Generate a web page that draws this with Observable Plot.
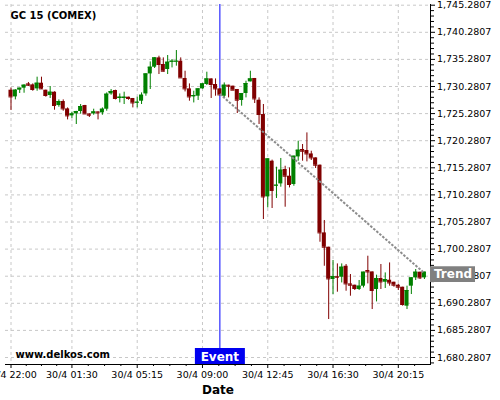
<!DOCTYPE html>
<html>
<head>
<meta charset="utf-8">
<script src="https://cdn.jsdelivr.net/npm/d3@7"></script>
<script src="https://cdn.jsdelivr.net/npm/@observablehq/plot@0.6"></script>
<style>
  body { margin: 0; background: #fff; }
  #chart svg { display: block; }
</style>
</head>
<body>
<div id="chart"></div>
<script>
// ---- data (15-minute candles starting 29/4 22:00) ----
const stepMinutes = 15;
const open = [1729.60,1728.36,1729.60,1729.97,1730.76,1730.58,1729.84,1730.89,1729.60,1728.62,
  1729.23,1726.77,1727.51,1726.15,1724.86,1725.22,1725.67,1726.77,1725.22,1725.22,
  1725.59,1725.41,1726.09,1728.91,1729.54,1728.07,1728.07,1728.31,1728.07,1727.25,
  1727.57,1728.91,1732.60,1733.84,1735.56,1734.34,1733.42,1734.76,1734.82,1734.95,
  1731.76,1729.84,1728.36,1728.49,1729.84,1730.65,1731.68,1730.65,1729.84,1728.49,
  1730.52,1730.34,1729.73,1727.70,1728.99,1731.13,1731.76,1727.75,1725.11,1709.91,
  1716.50,1711.94,1712.31,1714.97,1713.73,1712.20,1717.29,1718.66,1718.47,1717.84,
  1717.11,1715.76,1703.27,1700.63,1694.67,1695.22,1695.09,1697.12,1693.86,1693.62,
  1692.83,1693.44,1696.33,1696.07,1692.83,1694.86,1694.17,1694.54,1694.17,1693.62,
  1693.25,1689.75,1693.44,1694.97,1696.02,1694.97];
const close = [1728.36,1729.60,1729.97,1730.52,1730.52,1729.73,1730.89,1729.84,1728.62,1729.23,
  1726.77,1727.51,1726.15,1724.86,1725.22,1725.67,1726.59,1725.22,1724.98,1725.59,
  1725.41,1726.09,1728.86,1729.36,1728.07,1728.31,1728.31,1728.07,1727.25,1727.38,
  1728.67,1732.60,1733.84,1735.56,1734.34,1733.10,1734.76,1734.95,1734.95,1731.87,
  1729.84,1728.36,1728.62,1729.84,1730.76,1731.68,1730.65,1729.84,1728.73,1730.52,
  1730.34,1729.60,1727.75,1728.99,1730.83,1731.68,1727.99,1725.11,1709.91,1716.92,
  1711.09,1712.07,1714.84,1713.73,1712.20,1717.42,1718.53,1718.34,1717.84,1717.11,
  1715.76,1703.27,1700.63,1694.78,1695.22,1695.09,1696.94,1693.86,1693.62,1693.01,
  1693.44,1696.02,1696.07,1692.64,1694.86,1694.23,1694.67,1694.04,1693.62,1693.25,
  1690.06,1692.64,1694.97,1696.02,1694.97,1696.02];
const high = [1730.02,1729.70,1729.97,1730.60,1731.02,1730.76,1732.00,1732.00,1729.60,1730.28,
  1729.30,1727.81,1727.81,1726.33,1725.54,1725.70,1726.96,1726.80,1725.22,1726.09,
  1725.60,1726.33,1729.10,1729.73,1729.60,1728.91,1729.23,1728.31,1728.07,1728.31,
  1729.10,1732.60,1734.82,1735.60,1735.87,1735.56,1736.00,1735.26,1736.92,1735.56,
  1733.10,1730.76,1729.41,1729.84,1730.80,1732.92,1731.70,1731.68,1729.84,1730.94,
  1730.52,1730.34,1729.73,1728.99,1731.26,1733.10,1731.76,1728.18,1726.96,1716.92,
  1716.70,1715.39,1717.00,1715.57,1715.26,1717.42,1720.19,1719.58,1721.72,1718.34,
  1717.11,1715.80,1705.56,1700.63,1698.18,1697.55,1697.55,1697.44,1695.59,1693.62,
  1694.49,1696.02,1698.97,1696.07,1695.47,1697.44,1695.89,1697.73,1694.17,1693.80,
  1693.25,1693.44,1694.97,1696.52,1696.02,1696.02];
const low = [1725.85,1727.81,1728.99,1729.04,1730.28,1729.41,1729.41,1729.73,1728.31,1728.07,
  1725.91,1726.46,1725.72,1724.12,1724.38,1723.27,1725.17,1725.20,1724.56,1724.98,
  1724.12,1724.98,1725.72,1728.67,1727.81,1727.25,1726.96,1727.75,1726.33,1726.33,
  1726.96,1728.49,1729.73,1733.60,1732.49,1732.97,1732.49,1733.71,1734.03,1731.87,
  1729.28,1727.57,1727.25,1727.70,1729.80,1730.46,1728.07,1728.49,1728.60,1728.18,
  1728.18,1729.60,1725.30,1726.65,1728.18,1731.13,1727.14,1723.27,1705.74,1707.88,
  1707.77,1709.62,1711.70,1708.01,1711.57,1711.88,1716.50,1716.50,1716.37,1716.63,
  1715.15,1701.55,1697.12,1687.29,1691.90,1692.33,1694.04,1692.51,1691.59,1692.64,
  1692.64,1693.12,1693.86,1689.13,1690.54,1692.83,1693.01,1693.44,1693.25,1692.64,
  1689.75,1689.13,1691.90,1694.49,1694.67,1694.67];

// x ticks (minutes after 29/4 22:00) and their labels
const xTickMinutes = [0, 210, 435, 660, 885, 1110, 1335];
const xTickLabels = ["29/4 22:00", "30/4 01:30", "30/4 05:15", "30/4 09:00", "30/4 12:45", "30/4 16:30", "30/4 20:15"];
const yTicks = [1680.2807, 1685.2807, 1690.2807, 1695.2807, 1700.2807, 1705.2807, 1710.2807,
  1715.2807, 1720.2807, 1725.2807, 1730.2807, 1735.2807, 1740.2807, 1745.2807];

const eventMinute = 720;             // 30/4 10:00
const eventLabel = "Event";
const trendMinutes = [720, 1425];
const trendPrices = [1728.9, 1695.85];
const trendLabel = "Trend";
const title = "GC 15 (COMEX)";
const watermark = "www.delkos.com";
const xLabel = "Date";

const upColor = "#008000", downColor = "#800000";

// ---- derived tables ----
const candles = open.map((o, i) => ({
  t: i * stepMinutes, open: o, close: close[i], high: high[i], low: low[i],
  c: close[i] >= o ? upColor : downColor
}));
const trend = trendMinutes.map((m, i) => ({m, p: trendPrices[i]}));
const minorY = d3.range(-1, 66).filter(k => k % 5 !== 0).map(k => 1680.2807 + k);
const minorX = [];
for (let i = 0; i < xTickMinutes.length - 1; i++) {
  const a = xTickMinutes[i], b = xTickMinutes[i + 1];
  for (let j = 1; j < 4; j++) minorX.push(a + (b - a) * j / 4);
}
minorX.push(1335 + 56.25);
const half = 7;

const chart = Plot.plot({
  width: 500, height: 400,
  marginLeft: 5, marginRight: 70, marginTop: 4, marginBottom: 36,
  x: {type: "linear", domain: [-19, 1446]},
  y: {domain: [1678.99, 1745.41]},
  color: {type: "identity"},
  style: {fontFamily: "'DejaVu Sans', sans-serif", fontSize: "9.5px", color: "#000", background: "#fff"},
  marks: [
    Plot.ruleY(yTicks, {stroke: "#c8c8c8", strokeDasharray: "3,3"}),
    Plot.ruleX(xTickMinutes, {stroke: "#c8c8c8", strokeDasharray: "3,3"}),
    Plot.ruleX([eventMinute], {stroke: "#0000ff", strokeWidth: 1}),
    Plot.ruleX(candles, {x: "t", y1: "low", y2: "high", stroke: "c", strokeWidth: 1}),
    Plot.rect(candles, {x1: d => d.t - half, x2: d => d.t + half, y1: "open", y2: "close", fill: "c"}),
    Plot.ruleY(candles, {x1: d => d.t - half, x2: d => d.t + half, y: "close", stroke: "c"}),
    Plot.line(trend, {x: "m", y: "p", stroke: "#8c8c8c", strokeWidth: 2, strokeDasharray: "2.5,1.5",
      strokeLinecap: "butt"}),
    Plot.frame({anchor: "bottom", stroke: "#000"}),
    Plot.frame({anchor: "right", stroke: "#000"}),
    Plot.axisX(xTickMinutes, {anchor: "bottom", tickSize: 4, tickPadding: 3, label: null,
      tickFormat: d => xTickLabels[xTickMinutes.indexOf(d)]}),
    Plot.axisX(minorX, {anchor: "bottom", tickSize: 2, label: null, tickFormat: () => ""}),
    Plot.axisY(yTicks, {anchor: "right", tickSize: 4, tickPadding: 2.5, label: null,
      tickFormat: d3.format(",.4f")}),
    Plot.axisY(minorY, {anchor: "right", tickSize: 3, label: null, tickFormat: () => ""}),
    Plot.text([title], {frameAnchor: "top-left", dx: 5, dy: 11.3, textAnchor: "start", lineAnchor: "middle",
      fontWeight: "bold", fontSize: 10, fill: "#000"}),
    Plot.text([watermark], {frameAnchor: "bottom-left", dx: 10, dy: -10, textAnchor: "start", lineAnchor: "middle",
      fontWeight: "bold", fontSize: 10, fill: "#000"}),
    Plot.text([xLabel], {frameAnchor: "bottom", dy: 25.5, lineAnchor: "middle", textAnchor: "middle",
      fontWeight: "bold", fontSize: 12, fill: "#000"}),
    Plot.ruleX([eventMinute], {stroke: "#0000f0", strokeWidth: 50, insetTop: 344}),
    Plot.text([eventMinute], {x: d => d, text: () => eventLabel, frameAnchor: "bottom", dy: -7.8,
      lineAnchor: "middle", textAnchor: "middle", fill: "#fff", fontWeight: "bold", fontSize: 12}),
    Plot.ruleY([trendPrices[1]], {stroke: "#808080", strokeWidth: 15.7, insetLeft: 425, insetRight: -45, dy: 1}),
    Plot.text([trendPrices[1]], {y: d => d, text: () => trendLabel, frameAnchor: "right", dx: 22.5, dy: 1,
      lineAnchor: "middle", textAnchor: "middle", fill: "#fff", fontWeight: "bold", fontSize: 12})
  ]
});
document.getElementById("chart").appendChild(chart);
</script>
</body>
</html>
